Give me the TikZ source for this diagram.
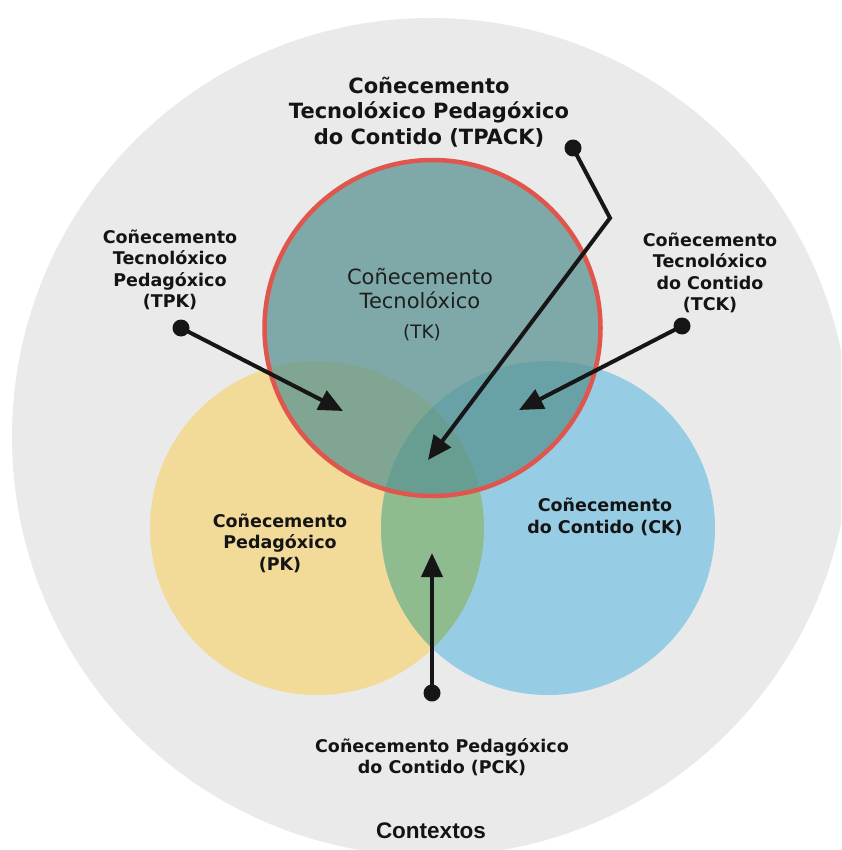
\documentclass[tikz,border=0pt]{standalone}
\usepackage{fontspec}
\setmainfont{DejaVu Sans}
\newfontfamily\arialfont{Liberation Sans}
\usetikzlibrary{arrows.meta}
\definecolor{ctxgray}{RGB}{235,234,235}
\definecolor{pkyellow}{RGB}{242,218,152}
\definecolor{ckblue}{RGB}{150,205,228}
\definecolor{pckgreen}{RGB}{143,188,143}
\definecolor{tkteal}{RGB}{91,148,146}
\definecolor{tkred}{RGB}{224,85,76}
\definecolor{txtdark}{RGB}{20,20,20}
\definecolor{tktext}{RGB}{28,32,32}
\definecolor{pointerblack}{RGB}{22,22,22}
\tikzset{
  lbl/.style={align=center, text=txtdark, font=\bfseries\fontsize{17.5}{21.5}\selectfont, inner sep=0pt},
  biglbl/.style={align=center, text=txtdark, font=\bfseries\fontsize{21}{25.5}\selectfont, inner sep=0pt},
  pointer/.style={line width=4pt, pointerblack, -{Triangle[length=24pt,width=21pt]}},
  dotmark/.style={fill=pointerblack},
}
\begin{document}
\begin{tikzpicture}[x=1pt,y=-1pt]
\useasboundingbox (0,0) rectangle (841,850);
\fill[white] (0,0) rectangle (841,850);
% context circle
\begin{scope}
\clip (0,0) rectangle (841,850);
\fill[ctxgray] (431,437) circle[radius=419pt];
\end{scope}
% PK and CK
\fill[pkyellow] (317,528) circle[radius=167pt];
\fill[ckblue] (548,528) circle[radius=167pt];
\begin{scope}
\clip (317,528) circle[radius=167pt];
\fill[pckgreen] (548,528) circle[radius=167pt];
\end{scope}
% TK
\fill[tkteal, fill opacity=0.75] (432.5,328) circle[radius=168pt];
\draw[tkred, line width=4.5pt] (432.5,328) circle[radius=168pt];
% TK label
\node[align=center, text=tktext, font=\fontsize{21}{24}\selectfont, inner sep=0pt] (tklbl) at (420,288) {Coñecemento\\Tecnolóxico};
\node[text=tktext, font=\fontsize{18.5}{21}\selectfont, inner sep=0pt] (tkabbr) at (422,333) {(TK)};
% labels
\node[biglbl] (tpack) at (429,112) {Coñecemento\\Tecnolóxico Pedagóxico\\do Contido (TPACK)};
\node[lbl] (tpk) at (170,270) {Coñecemento\\Tecnolóxico\\Pedagóxico\\(TPK)};
\node[lbl] (tck) at (710,273) {Coñecemento\\Tecnolóxico\\do Contido\\(TCK)};
\node[lbl] (pk) at (280,543) {Coñecemento\\Pedagóxico\\(PK)};
\node[lbl] (ck) at (605,517) {Coñecemento\\do Contido (CK)};
\node[lbl] (pck) at (442,757) {Coñecemento Pedagóxico\\do Contido (PCK)};
\node[font=\arialfont\bfseries\fontsize{22.5}{26}\selectfont, text=txtdark, inner sep=0pt] (ctx) at (431,831) {Contextos};
% pointers
\coordinate (tpkdot) at (181,328);
\coordinate (tpktip) at (343,411);
\coordinate (tckdot) at (682,326);
\coordinate (tcktip) at (519,410);
\coordinate (tpackdot) at (573,148);
\coordinate (tpackbend) at (610,218);
\coordinate (tpacktip) at (428,460);
\coordinate (pckdot) at (432,693);
\coordinate (pcktip) at (432,553);
\draw[pointer] (tpkdot) -- (tpktip);
\draw[pointer] (tckdot) -- (tcktip);
\draw[pointer, line join=miter] (tpackdot) -- (tpackbend) -- (tpacktip);
\draw[pointer] (pckdot) -- (pcktip);
\fill[dotmark] (tpkdot) circle[radius=8.5pt];
\fill[dotmark] (tckdot) circle[radius=8.5pt];
\fill[dotmark] (tpackdot) circle[radius=8.5pt];
\fill[dotmark] (pckdot) circle[radius=8.5pt];
\end{tikzpicture}
\end{document}
